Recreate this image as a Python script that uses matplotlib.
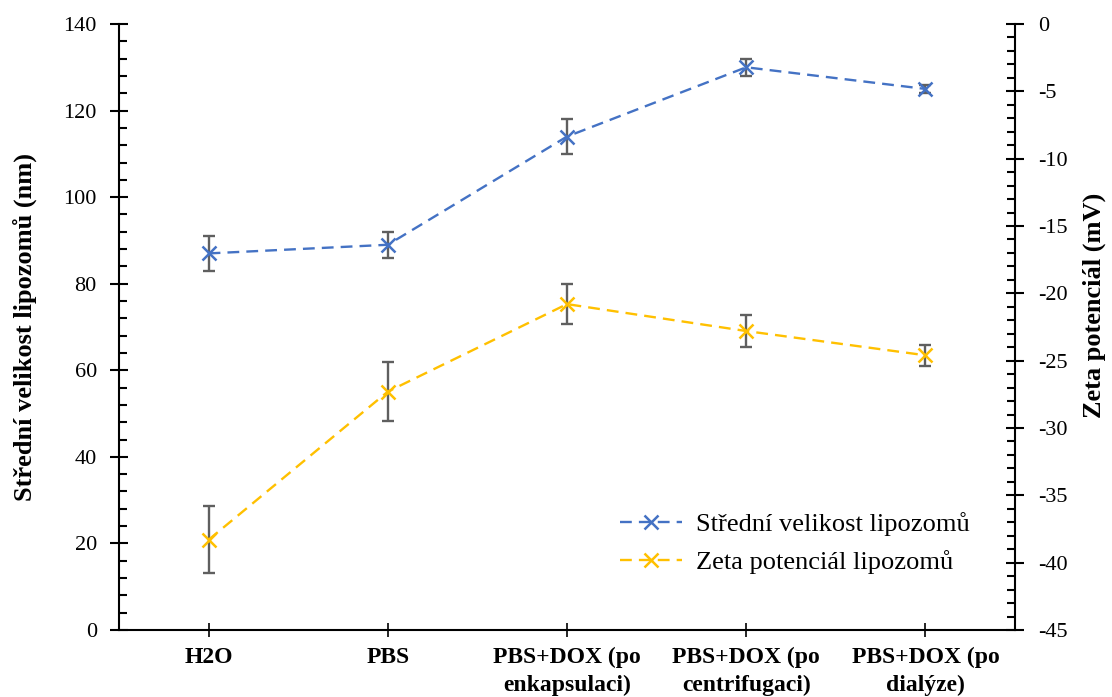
import matplotlib
matplotlib.use("Agg")
import matplotlib.pyplot as plt
from matplotlib.ticker import MultipleLocator

plt.rcParams['font.family'] = ['Liberation Serif', 'DejaVu Serif']
plt.rcParams['axes.unicode_minus'] = False

categories = ["H2O", "PBS", "PBS+DOX (po\nenkapsulaci)", "PBS+DOX (po\ncentrifugaci)", "PBS+DOX (po\ndialýze)"]
size_nm = [87, 89, 114, 130, 125]
size_err = [4, 3, 4, 2, 1]
zeta_mv = [-38.3, -27.3, -20.8, -22.8, -24.6]
zeta_err = [2.5, 2.2, 1.5, 1.2, 0.8]

blue = "#4472C4"
yellow = "#FFC000"
grey = "#5F5F5F"

fig = plt.figure(figsize=(11.12, 6.97), dpi=100)
ax = fig.add_axes([119/1112, 1-630/697, (1015-119)/1112, (630-24)/697])
ax2 = ax.twinx()

x = list(range(len(categories)))

ax.errorbar(x, size_nm, yerr=size_err, fmt='none', ecolor=grey, elinewidth=1.7,
            capsize=4.5, capthick=1.7, zorder=2)
l1, = ax.plot(x, size_nm, color=blue, linestyle=(0, (5, 3)), linewidth=1.7,
              marker='x', markersize=10.5, markeredgewidth=1.8, zorder=3,
              label="Střední velikost lipozomů")

ax2.errorbar(x, zeta_mv, yerr=zeta_err, fmt='none', ecolor=grey, elinewidth=1.7,
             capsize=4.5, capthick=1.7, zorder=2)
l2, = ax2.plot(x, zeta_mv, color=yellow, linestyle=(0, (5, 3)), linewidth=1.7,
               marker='x', markersize=10.5, markeredgewidth=1.8, zorder=3,
               label="Zeta potenciál lipozomů")

ax.set_xlim(-0.5, 4.5)
ax.set_ylim(0, 140)
ax2.set_ylim(-45, 0)

ax.yaxis.set_major_locator(MultipleLocator(20))
ax.yaxis.set_minor_locator(MultipleLocator(4))
ax2.yaxis.set_major_locator(MultipleLocator(5))
ax2.yaxis.set_minor_locator(MultipleLocator(1))

ax.set_xticks(x)
ax.set_xticklabels(categories, fontsize=17, fontweight='bold', linespacing=1.4)

for a in (ax, ax2):
    a.spines['top'].set_visible(False)
    for s in a.spines.values():
        s.set_linewidth(1.5)
        s.set_color('black')

ax.spines['right'].set_visible(False)
ax2.spines['left'].set_visible(False)
ax2.spines['bottom'].set_visible(False)

ax.tick_params(axis='y', which='major', direction='inout', length=13, width=1.5, labelsize=16, pad=9.5)
ax.tick_params(axis='y', which='minor', direction='in', length=6, width=1.5)
ax.tick_params(axis='x', which='major', direction='inout', length=10, width=1.2, pad=7)
ax2.tick_params(axis='y', which='major', direction='inout', length=13, width=1.5, labelsize=16, pad=10.5)
ax2.tick_params(axis='y', which='minor', direction='in', length=6, width=1.5)

ax.set_ylabel("Střední velikost lipozomů (nm)", fontsize=19, fontweight='bold')
ax2.set_ylabel("Zeta potenciál (mV)", fontsize=19, fontweight='bold')
ax.yaxis.set_label_coords((37-119)/896, 0.5)
ax2.yaxis.set_label_coords((1083-119)/896, (630-305)/606)

fig.legend(handles=[l1, l2], loc='upper left', bbox_to_anchor=(620/1112, 1-512/697),
           frameon=False, fontsize=19, handlelength=2.35, handletextpad=0.53,
           labelspacing=0.55, borderpad=0, borderaxespad=0)

fig.savefig("out.png", dpi=100)
